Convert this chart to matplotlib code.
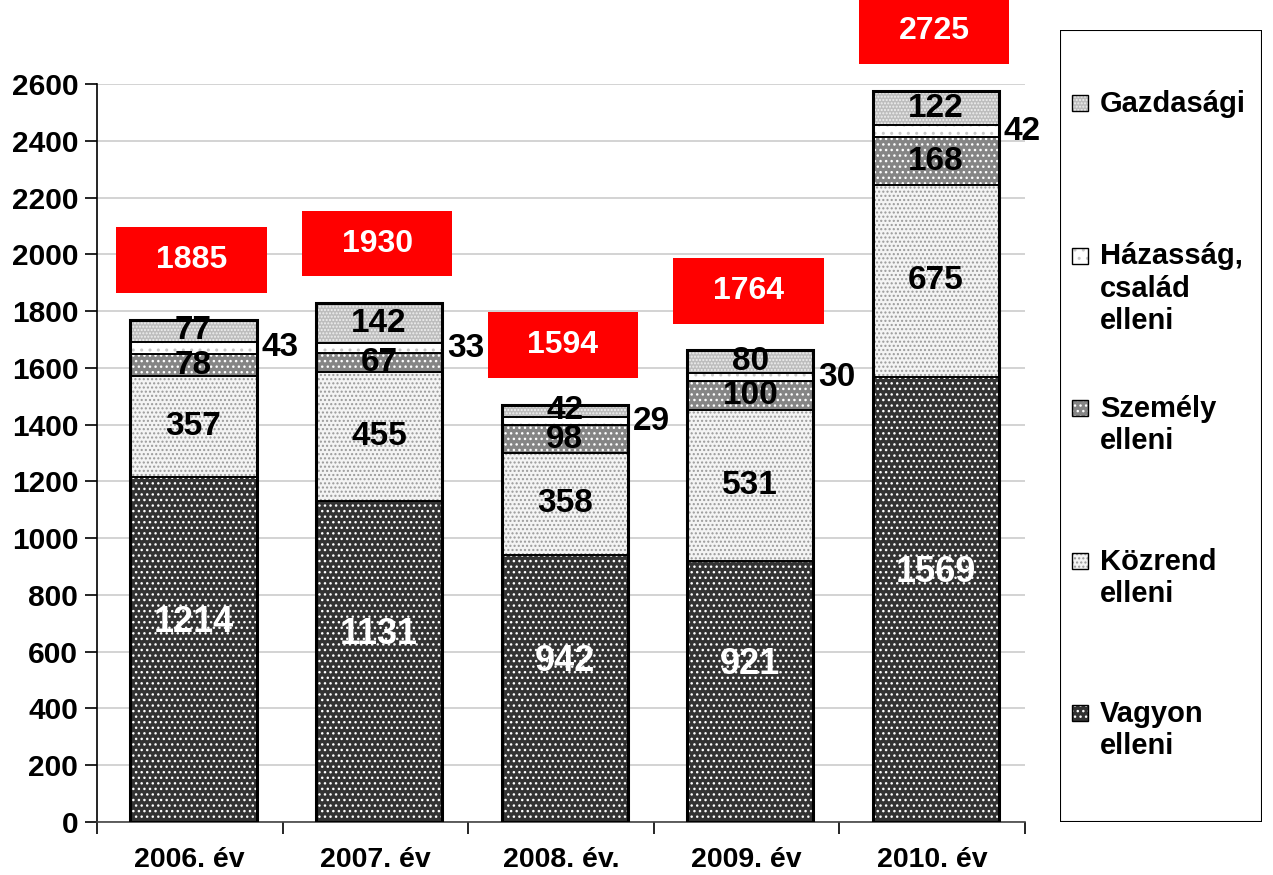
import matplotlib.pyplot as plt
import numpy as np
from matplotlib.patches import Rectangle

plt.rcParams['font.family'] = ['Liberation Sans', 'DejaVu Sans']
plt.rcParams['font.weight'] = 'bold'
plt.rcParams['hatch.linewidth'] = 1.0

years = ['2006. év', '2007. év', '2008. év.', '2009. év', '2010. év']
vagyon = [1214, 1131, 942, 921, 1569]
kozrend = [357, 455, 358, 531, 675]
szemely = [78, 67, 98, 100, 168]
hazassag = [43, 33, 29, 30, 42]
gazdasagi = [77, 142, 42, 80, 122]
totals = [1885, 1930, 1594, 1764, 2725]

series = [vagyon, kozrend, szemely, hazassag, gazdasagi]
names = ['Vagyon\nelleni', 'Közrend\nelleni', 'Személy\nelleni',
         'Házasság,\ncsalád\nelleni', 'Gazdasági']
faces = ['#333333', '#f4f4f4', '#858585', '#ffffff', '#bdbdbd']
hatch_cols = ['#ffffff', '#9a9a9a', '#ffffff', '#c8c8c8', '#f0f0f0']
hatches = ['...', '....', '...', '..', '.....']

fig = plt.figure(figsize=(12.73, 8.75), dpi=100)
ax = fig.add_axes([97 / 1273, 53 / 875, 928 / 1273, 738 / 875])

# bars sit a little right of the category centre (3d look of the original)
x = np.arange(len(years)) + 0.02
w = 0.68
bottom = np.zeros(len(years))
for k, vals in enumerate(series):
    vals = np.array(vals)
    ax.bar(x, vals, w, bottom=bottom, color=faces[k], edgecolor=hatch_cols[k],
           hatch=hatches[k], linewidth=0, zorder=2)
    ax.bar(x, vals, w, bottom=bottom, fill=False, edgecolor='black',
           linewidth=1.2, zorder=3)
    for i, v in enumerate(vals):
        yc = bottom[i] + v / 2
        if k == 0:
            ax.text(x[i], yc + 95, str(v), ha='center', va='center',
                    color='white', fontsize=26, fontweight='bold', zorder=5)
        elif k == 3:
            ax.text(x[i] + w / 2 + 0.025, yc, str(v), ha='left', va='center',
                    color='black', fontsize=24, fontweight='bold', zorder=5)
        else:
            ax.text(x[i], yc, str(v), ha='center', va='center', color='black',
                    fontsize=24, fontweight='bold', zorder=5)
    bottom += vals

# outer border of each stack
ax.bar(x, bottom, w, fill=False, edgecolor='black', linewidth=2.2, zorder=4)

# red total boxes
bw, bh = 0.81, 232
for i, t in enumerate(totals):
    yc = bottom[i] + 210
    ax.add_patch(Rectangle((x[i] - 0.01 - bw / 2, yc - bh / 2), bw, bh,
                           facecolor='#ff0000', edgecolor='none', zorder=6,
                           clip_on=False))
    ax.text(x[i] - 0.01, yc, str(t), ha='center', va='center', color='white',
            fontsize=23, fontweight='bold', zorder=7, clip_on=False)

ax.set_xlim(-0.5, len(years) - 0.5)
ax.set_ylim(0, 2600)
ax.set_yticks(np.arange(0, 2601, 200))
ax.yaxis.grid(True, color='#cccccc', linewidth=1.2, zorder=0)
ax.set_axisbelow(True)
ax.tick_params(axis='y', length=8.5, width=1.2, labelsize=21.5, pad=5)
for lbl in ax.get_yticklabels():
    lbl.set_fontweight('bold')

ax.set_xticks(np.arange(len(years)))
ax.set_xticklabels(years, fontsize=20.5, fontweight='bold')
ax.tick_params(axis='x', length=0, pad=18)
ax.set_xticks(np.arange(-0.5, len(years), 1), minor=True)
ax.tick_params(axis='x', which='minor', length=8.5, width=1.2)

for s in ['top', 'right']:
    ax.spines[s].set_visible(False)
ax.spines['left'].set_linewidth(1.2)
ax.spines['bottom'].set_linewidth(1.2)
ax.spines['bottom'].set_color('#444444')

# legend panel
lax = fig.add_axes([1060 / 1273, 53 / 875, 202 / 1273, 792 / 875])
lax.set_xlim(0, 202)
lax.set_ylim(792, 0)
lax.axis('off')
lax.add_patch(Rectangle((0, 0), 202, 792, fill=False, edgecolor='black',
                        linewidth=1.5))
first_line = 103 - 30
for j, k in enumerate(range(len(series) - 1, -1, -1)):
    yy = first_line + 152.5 * j
    lax.add_patch(Rectangle((12, yy - 8), 16, 16, facecolor=faces[k],
                            edgecolor=hatch_cols[k], hatch=hatches[k],
                            linewidth=0))
    lax.add_patch(Rectangle((12, yy - 8), 16, 16, fill=False,
                            edgecolor='black', linewidth=1))
    lax.text(40, yy - 13, names[k], ha='left', va='top', fontsize=21,
             fontweight='bold', linespacing=1.2)

fig.savefig('out.png', dpi=100)
